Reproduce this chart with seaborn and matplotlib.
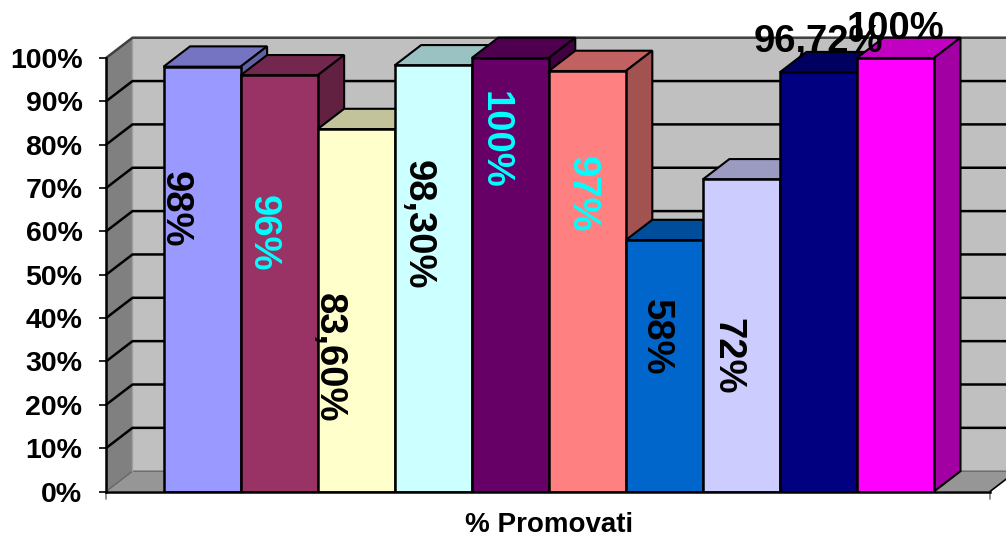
import matplotlib
matplotlib.use('Agg')
import matplotlib.pyplot as plt
from matplotlib.colors import to_rgb
from matplotlib.patches import Polygon
import pandas as pd
import seaborn as sns

# Values, one series per bar
series = ['s1', 's2', 's3', 's4', 's5', 's6', 's7', 's8', 's9', 's10']
values = [98, 96, 83.6, 98.3, 100, 97, 58, 72, 96.72, 100]
labels = ['98%', '96%', '83,60%', '98,30%', '100%', '97%', '58%', '72%', '96,72%', '100%']
category = '% Promovati'
yticks = [0, 10, 20, 30, 40, 50, 60, 70, 80, 90, 100]
ytick_labels = ['0%', '10%', '20%', '30%', '40%', '50%', '60%', '70%', '80%', '90%', '100%']

colors = ['#9999FF', '#993366', '#FFFFCC', '#CCFFFF', '#660066',
          '#FF8080', '#0066CC', '#CCCCFF', '#000080', '#FF00FF']
label_colors = ['black', 'cyan', 'black', 'black', 'cyan',
                'cyan', 'black', 'black', 'black', 'black']
# label placement relative to the top of each bar, in pixels
label_dx = [-27, -16, -27, -16, -16, -6, -8, -14, 0, 0]
label_dy = [-143, -158, -229, -159, -82, -123, -97, -177, 30, 29]
label_rot = [-90, -90, -90, -90, -90, -90, -90, -90, 0, 0]

sns.set_theme(style='white')
plt.rcParams['font.family'] = ['Liberation Sans', 'DejaVu Sans']
plt.rcParams['font.weight'] = 'bold'

df = pd.DataFrame({'category': category, 'series': series, 'value': values})

W, H = 1006, 537
fig = plt.figure(figsize=(W / 100, H / 100), dpi=100)
ax = fig.add_axes([106 / W, 1 - 491.5 / H, 884 / W, 433.5 / H])
ax.patch.set_alpha(0)

sns.barplot(data=df, x='category', y='value', hue='series', palette=colors,
            width=1, gap=0, dodge=True, legend=False, saturation=1,
            edgecolor='black', linewidth=1.8, ax=ax)
bars = sorted(ax.patches, key=lambda p: p.get_x())

x0, x1 = -0.5747, 0.5727
ax.set_xlim(x0, x1)
ax.set_ylim(0, 100)
# depth of the fake 3D box, in data units
dx = 26.5 / 770.5
dy = 20.3 / 4.335


def shade(color, k):
    return tuple(c * k for c in to_rgb(color))


def poly(pts, face, z, edge='none', lw=0):
    ax.add_patch(Polygon(pts, closed=True, facecolor=face, edgecolor=edge,
                         linewidth=lw, zorder=z, clip_on=False))


# walls and floor
poly([(x0 + dx, dy), (x1 + dx, dy), (x1 + dx, 100 + dy), (x0 + dx, 100 + dy)], '#C0C0C0', 0.5)
poly([(x0, 0), (x0 + dx, dy), (x0 + dx, 100 + dy), (x0, 100)], '#808080', 0.6)
poly([(x0, 0), (x1, 0), (x1 + dx, dy), (x0 + dx, dy)], '#969696', 0.6)
ax.plot([x0, x0 + dx, x1 + dx], [0, dy, dy], color='#666666', lw=1, zorder=0.7, clip_on=False)
ax.plot([x0 + dx, x0 + dx], [dy, 100 + dy], color='#A0A0A0', lw=1, zorder=0.7, clip_on=False)
ax.plot([x1, x1 + dx], [0, dy], color='black', lw=1.2, zorder=0.7, clip_on=False)

# gridlines run up the side wall then along the back wall
for v in yticks[1:-1]:
    ax.plot([x0, x0 + dx, x1 + dx], [v, v + dy, v + dy], color='black', lw=1.8,
            zorder=0.8, clip_on=False)
ax.plot([x0, x0 + dx, x1 + dx], [100, 100 + dy, 100 + dy], color='#404040', lw=1.8,
        zorder=0.8, clip_on=False)

# bars drawn left to right, each one covers the depth of the previous
for i, p in enumerate(bars):
    z = 2 + i
    p.set_zorder(z + 0.2)
    left, right, top = p.get_x(), p.get_x() + p.get_width(), p.get_height()
    poly([(left, top), (right, top), (right + dx, top + dy), (left + dx, top + dy)],
         shade(colors[i], 0.76), z, 'black', 1.5)
    poly([(right, 0), (right + dx, dy), (right + dx, top + dy), (right, top)],
         shade(colors[i], 0.64), z + 0.1, 'black', 1.5)
    ax.annotate(labels[i], xy=((left + right) / 2, top), xytext=(label_dx[i], label_dy[i]),
                textcoords='offset pixels', ha='center', va='center', rotation=label_rot[i],
                color=label_colors[i], fontsize=27.5, fontweight='bold', zorder=50,
                annotation_clip=False)

ax.set_yticks(yticks)
ax.set_yticklabels(ytick_labels, fontsize=20.5, fontweight='bold', color='black')
ax.tick_params(axis='y', left=True, length=5, width=1.2, color='black', pad=12)
ax.set_xlabel('')
ax.set_ylabel('')
ax.set_xticks([0])
ax.set_xticklabels([category], fontsize=20, fontweight='bold', color='black')
ax.tick_params(axis='x', bottom=False, pad=9)

sns.despine(ax=ax, top=True, right=True)
for name in ['left', 'bottom']:
    ax.spines[name].set_color('black')
    ax.spines[name].set_linewidth(1.8)
    ax.spines[name].set_zorder(30)

# end ticks below the floor
for x in [x0, x1]:
    ax.plot([x, x], [0, -1.8], color='#808080', lw=1.2, clip_on=False, zorder=1)

fig.savefig('out.png', dpi=100)
